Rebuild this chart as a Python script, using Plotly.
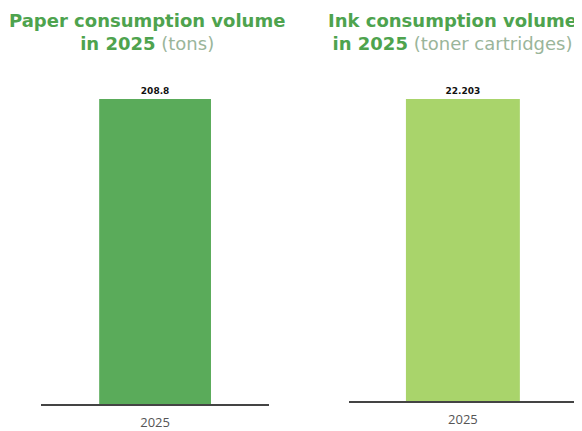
import plotly.graph_objects as go

categories = ["2025"]
paper_values = [208.8]
ink_values = [22203]
paper_labels = ["208.8"]
ink_labels = ["22.203"]

fig = go.Figure()
fig.add_trace(go.Bar(x=categories, y=paper_values, text=paper_labels, textposition="outside",
                     texttemplate="<b>%{text}</b>",
                     marker=dict(color="#5aab5a", line=dict(width=0)), width=0.49,
                     textfont=dict(size=9, color="#111", family="DejaVu Sans"),
                     cliponaxis=False, xaxis="x", yaxis="y", hoverinfo="skip"))
fig.add_trace(go.Bar(x=categories, y=ink_values, text=ink_labels, textposition="outside",
                     texttemplate="<b>%{text}</b>",
                     marker=dict(color="#a9d46b", line=dict(width=0)), width=0.5,
                     textfont=dict(size=9, color="#111", family="DejaVu Sans"),
                     cliponaxis=False, xaxis="x2", yaxis="y2", hoverinfo="skip"))

axis_common = dict(showgrid=False, zeroline=False, showline=True, linecolor="#444", linewidth=2,
                   ticks="outside", ticklen=5, tickcolor="rgba(0,0,0,0)",
                   range=[-0.5, 0.5], fixedrange=True,
                   tickfont=dict(size=13, color="#555", family="Open Sans"))
title_font = dict(size=18, color="#4ea34e", family="DejaVu Sans")
fig.update_layout(
    width=574, height=423, margin=dict(l=0, r=0, t=0, b=0),
    paper_bgcolor="white", plot_bgcolor="white", showlegend=False,
    xaxis=dict(domain=[0.0575, 0.455], anchor="y", **axis_common),
    xaxis2=dict(domain=[0.594, 0.991], anchor="y2", **axis_common),
    yaxis=dict(domain=[0.052, 0.7825], range=[0, paper_values[0]], visible=False, anchor="x"),
    yaxis2=dict(domain=[0.059, 0.7825], range=[0, ink_values[0]], visible=False, anchor="x2"),
    annotations=[
        dict(text="<b>Paper consumption volume</b><br><b>in 2025</b> <span style='color:#9ab59a'>(tons)</span>",
             x=0.242, y=1.0, xref="paper", yref="paper", xanchor="center", yanchor="top",
             showarrow=False, font=title_font),
        dict(text="<b>Ink consumption volume</b><br><b>in 2025</b> <span style='color:#9ab59a'>(toner cartridges)</span>",
             x=0.775, y=1.0, xref="paper", yref="paper", xanchor="center", yanchor="top",
             showarrow=False, font=title_font),
    ],
)
fig.write_html("out.html")
